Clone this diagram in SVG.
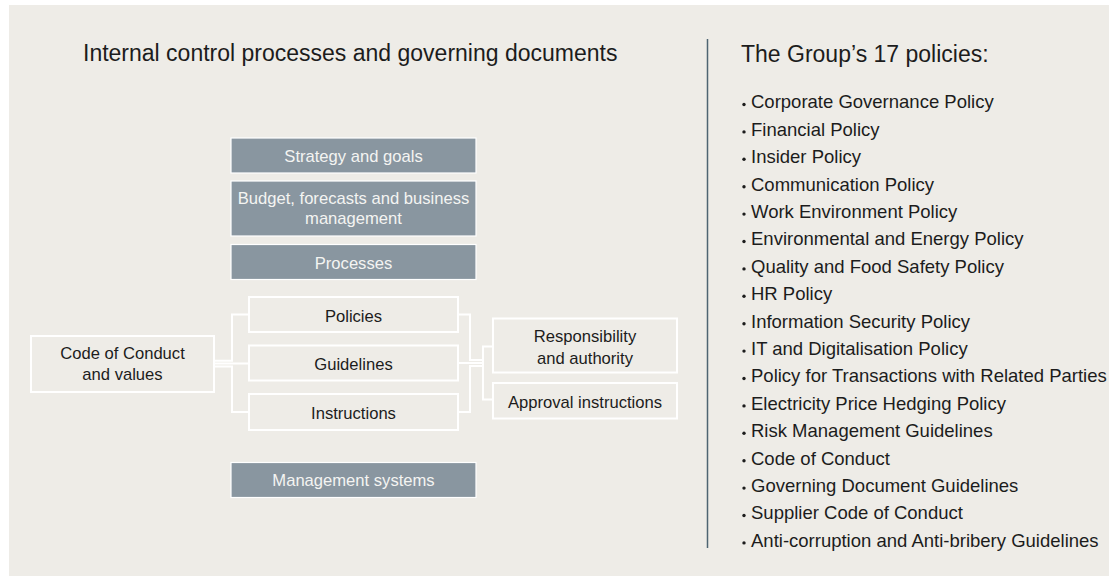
<svg xmlns="http://www.w3.org/2000/svg" width="1109" height="576" viewBox="0 0 1109 576">
  <style>
    .t { font-family: "Liberation Sans", Arial, sans-serif; fill: #1c1c1c; }
    .h { font-size: 23px; }
    .n { font-size: 16.6px; text-anchor: middle; }
    .w { fill: #f4f4f2; }
    .li { font-size: 18.5px; }
    .box { fill: none; stroke: #ffffff; stroke-width: 2; }
    .gbox { fill: #8996a0; stroke: #ffffff; stroke-width: 1.2; }
    .conn { fill: none; stroke: #ffffff; stroke-width: 2; }
    .dot { fill: #1c1c1c; }
  </style>

  <!-- page and panel -->
  <rect x="0" y="0" width="1109" height="576" fill="#ffffff"/>
  <rect x="9" y="5" width="1100" height="571" fill="#eeece7"/>

  <!-- left heading -->
  <text class="t h" x="83" y="61">Internal control processes and governing documents</text>

  <!-- stacked process blocks -->
  <g id="strategy">
    <rect class="gbox" x="231" y="138" width="245" height="35"/>
    <text class="t n w" x="353.5" y="161.5">Strategy and goals</text>
  </g>
  <g id="budget">
    <rect class="gbox" x="231" y="181" width="245" height="55"/>
    <text class="t n w" x="353.5" y="204">Budget, forecasts and business</text>
    <text class="t n w" x="353.5" y="224">management</text>
  </g>
  <g id="processes">
    <rect class="gbox" x="231" y="244.5" width="245" height="35"/>
    <text class="t n w" x="353.5" y="268.5">Processes</text>
  </g>
  <g id="management-systems">
    <rect class="gbox" x="231" y="462.5" width="245" height="35"/>
    <text class="t n w" x="353.5" y="485.5">Management systems</text>
  </g>

  <!-- connectors -->
  <g id="connectors">
    <path class="conn" d="M214,360.7 H232 V314.5 H249"/>
    <path class="conn" d="M214,363.5 H249"/>
    <path class="conn" d="M214,366.5 H232 V412 H249"/>
    <path class="conn" d="M458,314.5 H470 V360 H483"/>
    <path class="conn" d="M458,363 H483"/>
    <path class="conn" d="M458,412 H470 V366 H483"/>
    <path class="conn" d="M493,346.5 H483 V399.5 H493"/>
  </g>

  <!-- governing document nodes -->
  <g id="code-of-conduct">
    <rect class="box" x="31" y="336" width="183" height="56"/>
    <text class="t n" x="122.5" y="358.5">Code of Conduct</text>
    <text class="t n" x="122.5" y="379.5">and values</text>
  </g>
  <g id="policies">
    <rect class="box" x="249" y="297" width="209" height="35"/>
    <text class="t n" x="353.5" y="321.5">Policies</text>
  </g>
  <g id="guidelines">
    <rect class="box" x="249" y="345.5" width="209" height="35"/>
    <text class="t n" x="353.5" y="370">Guidelines</text>
  </g>
  <g id="instructions">
    <rect class="box" x="249" y="394" width="209" height="36"/>
    <text class="t n" x="353.5" y="418.5">Instructions</text>
  </g>
  <g id="responsibility">
    <rect class="box" x="493" y="318.5" width="184" height="54"/>
    <text class="t n" x="585" y="341.5">Responsibility</text>
    <text class="t n" x="585" y="363.5">and authority</text>
  </g>
  <g id="approval">
    <rect class="box" x="493" y="383" width="184" height="35.5"/>
    <text class="t n" x="585" y="407.5">Approval instructions</text>
  </g>

  <!-- divider -->
  <line x1="707.5" y1="39" x2="707.5" y2="548" stroke="#4e6472" stroke-width="1.5"/>

  <!-- policy list -->
  <text class="t h" x="741" y="61.5">The Group’s 17 policies:</text>
  <g id="policy-list">
    <g class="dot">
      <circle cx="744" cy="104.5" r="1.7"/>
      <circle cx="744" cy="131.9" r="1.7"/>
      <circle cx="744" cy="159.3" r="1.7"/>
      <circle cx="744" cy="186.7" r="1.7"/>
      <circle cx="744" cy="214.1" r="1.7"/>
      <circle cx="744" cy="241.5" r="1.7"/>
      <circle cx="744" cy="268.9" r="1.7"/>
      <circle cx="744" cy="296.3" r="1.7"/>
      <circle cx="744" cy="323.7" r="1.7"/>
      <circle cx="744" cy="351.1" r="1.7"/>
      <circle cx="744" cy="378.5" r="1.7"/>
      <circle cx="744" cy="405.9" r="1.7"/>
      <circle cx="744" cy="433.3" r="1.7"/>
      <circle cx="744" cy="460.7" r="1.7"/>
      <circle cx="744" cy="488.1" r="1.7"/>
      <circle cx="744" cy="515.5" r="1.7"/>
      <circle cx="744" cy="542.9" r="1.7"/>
    </g>
    <text class="t li" x="751" y="108.3">Corporate Governance Policy</text>
    <text class="t li" x="751" y="135.7">Financial Policy</text>
    <text class="t li" x="751" y="163.1">Insider Policy</text>
    <text class="t li" x="751" y="190.5">Communication Policy</text>
    <text class="t li" x="751" y="217.9">Work Environment Policy</text>
    <text class="t li" x="751" y="245.3">Environmental and Energy Policy</text>
    <text class="t li" x="751" y="272.7">Quality and Food Safety Policy</text>
    <text class="t li" x="751" y="300.1">HR Policy</text>
    <text class="t li" x="751" y="327.5">Information Security Policy</text>
    <text class="t li" x="751" y="354.9">IT and Digitalisation Policy</text>
    <text class="t li" x="751" y="382.3">Policy for Transactions with Related Parties</text>
    <text class="t li" x="751" y="409.7">Electricity Price Hedging Policy</text>
    <text class="t li" x="751" y="437.1">Risk Management Guidelines</text>
    <text class="t li" x="751" y="464.5">Code of Conduct</text>
    <text class="t li" x="751" y="491.9">Governing Document Guidelines</text>
    <text class="t li" x="751" y="519.3">Supplier Code of Conduct</text>
    <text class="t li" x="751" y="546.7">Anti-corruption and Anti-bribery Guidelines</text>
  </g>
</svg>
